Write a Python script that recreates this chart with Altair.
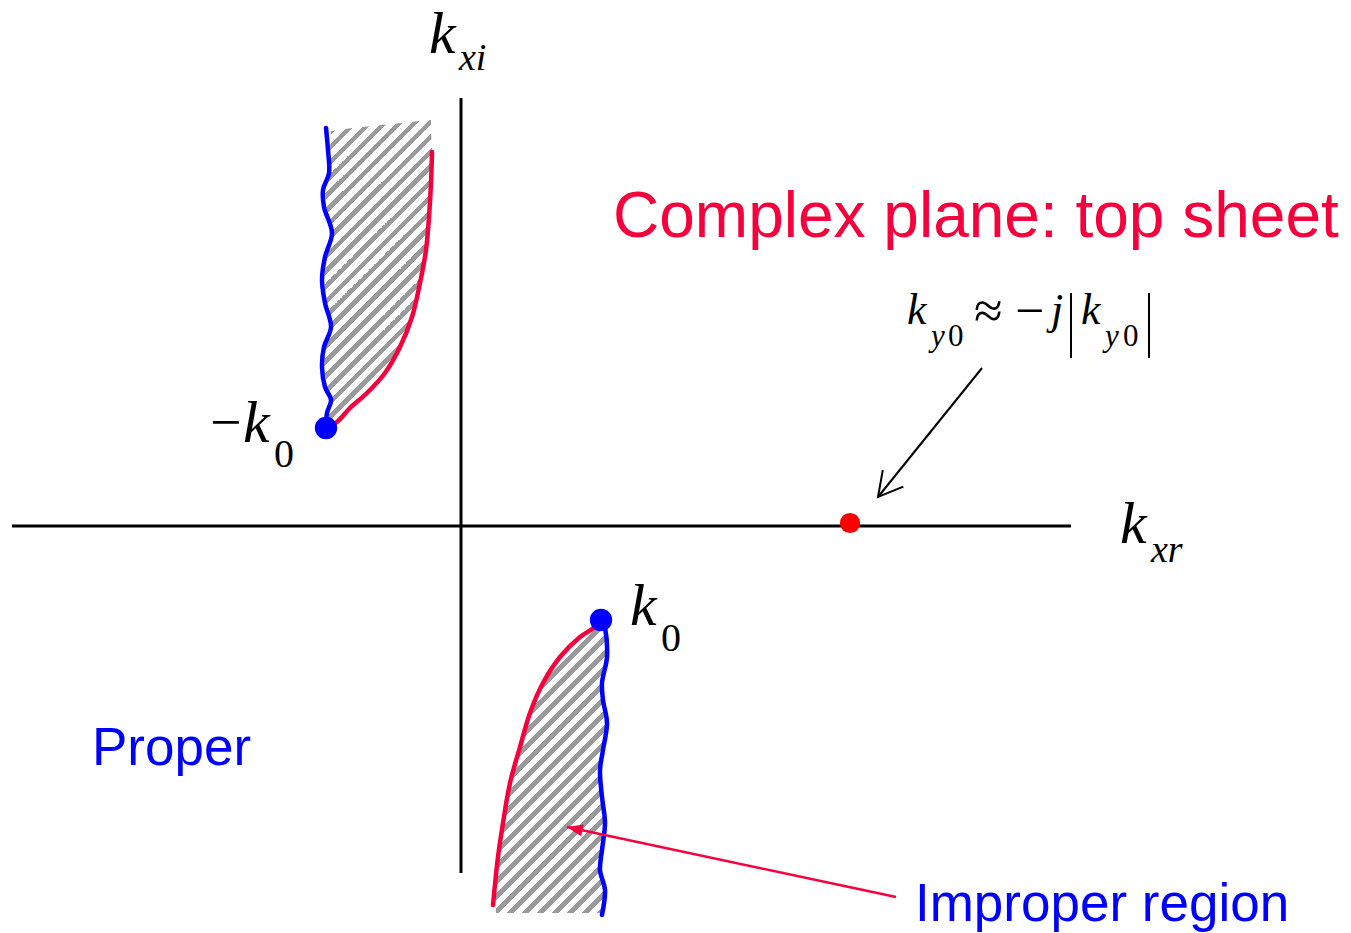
import math
import altair as alt
import pandas as pd

# ---------------- data (pixel coordinates) ----------------
# axes
H_AXIS_X = [12, 1071]
H_AXIS_Y = 526
V_AXIS_X = 461
V_AXIS_Y = [98, 873]

# upper-left branch (around -k0)
TL_BLUE_X = [326, 328, 329, 323, 324, 332, 325, 322, 325, 331, 324, 322, 325, 331, 327, 326]
TL_BLUE_Y = [128, 150, 173, 190, 207, 233, 257, 280, 303, 327, 347, 367, 387, 400, 413, 428]
TL_RED_X = [328, 337, 350, 367, 385, 400, 412, 420, 426, 429, 431, 432]
TL_RED_Y = [427, 422, 408, 393, 373, 347, 317, 283, 250, 217, 183, 152]
TL_REG_Y = [120, 124, 128, 131, 150, 173, 190, 207, 233, 257, 280, 303, 327, 347, 367, 387, 400, 413, 425]
TL_REG_L = [428, 392, 352, 331, 330, 331, 325, 326, 334, 327, 324, 327, 333, 326, 324, 327, 333, 329, 327]
TL_REG_R = [431, 431, 431, 431, 432, 431, 430, 429, 427, 424, 420, 415, 408, 400, 388, 372, 360, 345, 333]

# lower branch (around k0)
BR_RED_X = [601, 595, 580, 560, 543, 530, 520, 510, 503, 498, 493]
BR_RED_Y = [620, 627, 637, 657, 683, 713, 747, 783, 823, 857, 905]
BR_BLUE_X = [603, 605, 607, 602, 603, 607, 603, 600, 602, 605, 602, 600, 605, 602]
BR_BLUE_Y = [620, 627, 657, 683, 700, 723, 750, 770, 797, 823, 850, 870, 890, 915]
BR_REG_Y = [625, 637, 657, 683, 700, 723, 750, 770, 797, 823, 850, 870, 890, 913]
BR_REG_L = [598, 580, 560, 543, 536, 527, 519, 514, 508, 503, 499, 497, 495, 496]
BR_REG_R = [604, 606, 606, 602, 603, 606, 603, 600, 602, 605, 602, 600, 604, 602]

# points
BLUE_DOTS_X = [326, 601]
BLUE_DOTS_Y = [428, 620]
RED_DOT_X = [850]
RED_DOT_Y = [523]

# arrows: start -> tip
BLACK_ARROW = [(982, 368), (878, 497)]
RED_ARROW = [(896, 897), (567, 827)]

# absolute-value bars of the formula
BARS_X = [1071, 1149]
BARS_Y = [293, 358]

# text labels: (text, x, baseline)
SANS_RED = [("Complex plane: top sheet", 613, 237)]
SANS_BLUE = [("Proper", 92, 765), ("Improper region", 915, 921)]
MATH_BIG_ITALIC = [("k", 429, 53), ("k", 1120, 543), ("k", 243, 442), ("k", 630, 625)]
MATH_SUB_ITALIC = [("xi", 459, 70), ("xr", 1151, 562)]
MATH_SUB_UPRIGHT = [("0", 274, 467), ("0", 661, 651)]
MATH_MINUS_BIG = [("\u2212", 210, 441)]
FORM_ITALIC = [("k", 907, 324), ("j", 1051, 324), ("k", 1081, 324)]
FORM_SUB_ITALIC = [("y", 931, 346), ("y", 1105, 346)]
FORM_SUB_UPRIGHT = [("0", 948, 346), ("0", 1123, 346)]
FORM_OPS = [("\u2248", 974, 328), ("\u2212", 1015, 328)]

# ---------------- styling ----------------
BLUE = "#0000ff"
RED_LINE = "#f5003c"
RED_DOT = "#ff0000"
SERIF = "Liberation Serif"
SANS = "Liberation Sans"

W, H = 1335, 925
xs = alt.Scale(domain=[8, 8 + W], nice=False, zero=False)
ys = alt.Scale(domain=[8, 8 + H], nice=False, zero=False, reverse=True)


def X(f):
    return alt.X(f, type="quantitative", scale=xs, axis=None)


def Y(f):
    return alt.Y(f, type="quantitative", scale=ys, axis=None)


def hatch(xl, xr, yv, period=15.0, frac=0.45):
    w = max(xr) - min(xl)
    h = max(yv) - min(yv)
    tot = w + h
    s = tot / (w * w + h * h)
    stops = []
    k = 0
    while k * period < tot:
        o0 = k * period / tot
        o1 = min(1.0, (k * period + frac * period) / tot)
        o2 = min(1.0, (k + 1) * period / tot)
        stops += [alt.GradientStop(offset=o0, color="#9a9a9a"),
                  alt.GradientStop(offset=o1, color="#9a9a9a"),
                  alt.GradientStop(offset=o1, color="#ffffff"),
                  alt.GradientStop(offset=o2, color="#ffffff")]
        k += 1
    return alt.LinearGradient(gradient="linear", stops=stops,
                              x1=0, y1=0, x2=s * w, y2=s * h)


def region(xl, xr, yv):
    df = pd.DataFrame({"y": yv, "xl": xl, "xr": xr})
    return alt.Chart(df).mark_area(orient="horizontal", color=hatch(xl, xr, yv),
                                   opacity=1, strokeWidth=0).encode(
        y=Y("y"), x=X("xl"), x2="xr")


def curve(xv, yv, color, width):
    df = pd.DataFrame({"x": xv, "y": yv, "i": list(range(len(xv)))})
    return alt.Chart(df).mark_line(color=color, strokeWidth=width,
                                   interpolate="catmull-rom", strokeCap="round").encode(
        x=X("x"), y=Y("y"), order=alt.Order("i:Q"))


def seg(x1, y1, x2, y2, color, width):
    df = pd.DataFrame({"x": [x1], "y": [y1], "x2": [x2], "y2": [y2]})
    return alt.Chart(df).mark_rule(color=color, strokeWidth=width).encode(
        x=X("x"), y=Y("y"), x2="x2", y2="y2")


def arrow_head(start, tip, color, filled, size, width=2):
    ang = math.degrees(math.atan2(tip[1] - start[1], tip[0] - start[0]))
    rot = (ang + 90) % 360
    df = pd.DataFrame({"x": [tip[0]], "y": [tip[1]]})
    if filled:
        return alt.Chart(df).mark_point(shape="M0,0L-0.38,1L0.38,1Z", size=size, angle=rot,
                                        filled=True, color=color, opacity=1).encode(
            x=X("x"), y=Y("y"))
    return alt.Chart(df).mark_point(shape="M-0.55,1L0,0L0.55,1", size=size, angle=rot,
                                    filled=False, color=color, strokeWidth=width,
                                    opacity=1).encode(x=X("x"), y=Y("y"))


def dots(xv, yv, color, size):
    df = pd.DataFrame({"x": xv, "y": yv})
    return alt.Chart(df).mark_circle(color=color, size=size, opacity=1).encode(
        x=X("x"), y=Y("y"))


def labels(items, size, font, style, color):
    df = pd.DataFrame({"t": [a for a, _, _ in items],
                       "x": [b for _, b, _ in items],
                       "y": [c for _, _, c in items]})
    return alt.Chart(df).mark_text(align="left", baseline="alphabetic", fontSize=size,
                                   font=font, fontStyle=style, color=color).encode(
        x=X("x"), y=Y("y"), text="t:N")


layers = [
    seg(H_AXIS_X[0], H_AXIS_Y, H_AXIS_X[1], H_AXIS_Y, "black", 3),
    seg(V_AXIS_X, V_AXIS_Y[0], V_AXIS_X, V_AXIS_Y[1], "black", 3),
    region(TL_REG_L, TL_REG_R, TL_REG_Y),
    region(BR_REG_L, BR_REG_R, BR_REG_Y),
    curve(TL_RED_X, TL_RED_Y, RED_LINE, 4.5),
    curve(TL_BLUE_X, TL_BLUE_Y, BLUE, 4.5),
    curve(BR_RED_X, BR_RED_Y, RED_LINE, 4.5),
    curve(BR_BLUE_X, BR_BLUE_Y, BLUE, 4.5),
    dots(BLUE_DOTS_X, BLUE_DOTS_Y, BLUE, 500),
    dots(RED_DOT_X, RED_DOT_Y, RED_DOT, 410),
    seg(BLACK_ARROW[0][0], BLACK_ARROW[0][1], BLACK_ARROW[1][0], BLACK_ARROW[1][1], "black", 2),
    arrow_head(BLACK_ARROW[0], BLACK_ARROW[1], "black", False, 2300, 2),
    seg(RED_ARROW[0][0], RED_ARROW[0][1], RED_ARROW[1][0], RED_ARROW[1][1], RED_LINE, 2.5),
    arrow_head(RED_ARROW[0], RED_ARROW[1], RED_LINE, True, 1000),
    seg(BARS_X[0], BARS_Y[0], BARS_X[0], BARS_Y[1], "black", 2),
    seg(BARS_X[1], BARS_Y[0], BARS_X[1], BARS_Y[1], "black", 2),
    labels(SANS_RED, 64, SANS, "normal", RED_LINE),
    labels(SANS_BLUE, 53, SANS, "normal", BLUE),
    labels(MATH_BIG_ITALIC, 60, SERIF, "italic", "black"),
    labels(MATH_SUB_ITALIC, 38, SERIF, "italic", "black"),
    labels(MATH_SUB_UPRIGHT, 40, SERIF, "normal", "black"),
    labels(MATH_MINUS_BIG, 56, SERIF, "normal", "black"),
    labels(FORM_ITALIC, 44, SERIF, "italic", "black"),
    labels(FORM_SUB_ITALIC, 31, SERIF, "italic", "black"),
    labels(FORM_SUB_UPRIGHT, 31, SERIF, "normal", "black"),
    labels(FORM_OPS, 52, SERIF, "normal", "black"),
]

chart = alt.layer(*layers).properties(
    width=W, height=H, padding=0, autosize=alt.AutoSizeParams(type="none"),
    background="white",
).configure_view(stroke=None)

chart.save("out.html", embed_options={"renderer": "svg", "actions": False})
